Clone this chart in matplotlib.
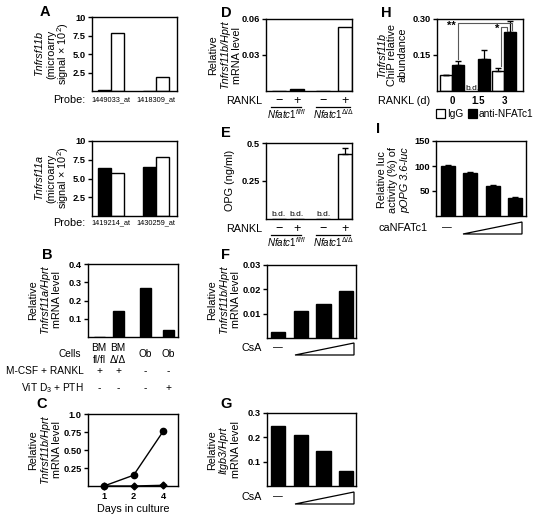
import matplotlib
matplotlib.use('Agg')
import matplotlib.pyplot as plt
import numpy as np
from matplotlib.patches import Polygon, Rectangle
from matplotlib.lines import Line2D
from matplotlib.transforms import blended_transform_factory

plt.rcParams['font.family'] = ['Liberation Sans', 'DejaVu Sans']
plt.rcParams['mathtext.fontset'] = 'custom'
plt.rcParams['mathtext.rm'] = 'Liberation Sans'
plt.rcParams['mathtext.it'] = 'Liberation Sans:italic'
plt.rcParams['mathtext.bf'] = 'Liberation Sans:bold'

# ---- data ----
# A: microarray
probes_a1 = ['1449033_at', '1418309_at']
opg_flox = [0.12, 0.05]
opg_del = [7.8, 1.9]
probes_a2 = ['1419214_at', '1430259_at']
rank_flox = [6.4, 6.5]
rank_del = [5.8, 7.9]
# B
b_cells = ['BM\nfl/fl', 'BM\nΔ/Δ', 'Ob', 'Ob']
b_vals = [0.002, 0.14, 0.27, 0.04]
b_mcsf = ['+', '+', '-', '-']
b_vitd = ['-', '-', '-', '+']
# C
c_days = ['1', '2', '4']
c_del = [0.0, 0.15, 0.76]
c_flox = [0.0, 0.0, 0.01]
# D / E
rankl_signs = ['−', '+', '−', '+']
d_vals = [0, 0.0015, 0, 0.053]
e_vals = [0, 0, 0, 0.43]
e_err = [0, 0, 0, 0.04]
e_bd = [True, True, True, False]
# F / G
f_vals = [0.0025, 0.011, 0.014, 0.0195]
g_vals = [0.245, 0.21, 0.143, 0.063]
# H
h_days = ['0', '1.5', '3']
h_igg = [0.068, np.nan, 0.083]
h_igg_err = [0, 0, 0.012]
h_nfat = [0.107, 0.133, 0.245]
h_nfat_err = [0.018, 0.037, 0.045]
# I
i_vals = [100, 87, 60, 36]
i_err = [3, 1.5, 2.5, 1.5]

W, H = 544, 517
fig = plt.figure(figsize=(W / 100, H / 100), dpi=100)
TK = 6.7
LB = 7.8
SM = 7.3


def add_ax(l, t, r, b):
    ax = fig.add_axes([l / W, 1 - b / H, (r - l) / W, (b - t) / H])
    for s in ax.spines.values():
        s.set_linewidth(1)
    ax.tick_params(axis='y', length=3, width=1, pad=1.5, labelsize=TK)
    ax.tick_params(axis='x', length=0, labelsize=TK)
    ax.set_xticks([])
    return ax


def yticks(ax, ticks, labels, lim):
    ax.set_ylim(*lim)
    ax.set_yticks(ticks, labels, fontweight='bold')


def ft(x, y, s, **kw):
    kw.setdefault('ha', 'center')
    kw.setdefault('va', 'center')
    kw.setdefault('size', LB)
    fig.text(x / W, 1 - y / H, s, **kw)


def xt(ax, x, y, s, **kw):
    tr = blended_transform_factory(ax.transData, fig.transFigure)
    kw.setdefault('ha', 'center')
    kw.setdefault('va', 'center')
    kw.setdefault('size', LB)
    ax.text(x, 1 - y / H, s, transform=tr, clip_on=False, **kw)


def ylab(xs, yc, lines, styles):
    for x, s, st in zip(xs, lines, styles):
        ft(x, yc, s, rotation=90, style=st)


def hline(x0, x1, y):
    fig.add_artist(Line2D([x0 / W, x1 / W], [1 - y / H, 1 - y / H], color='k', lw=0.9))


def tri(x0, x1, yb, yt):
    fig.add_artist(Polygon([(x0 / W, 1 - yb / H), (x1 / W, 1 - yb / H), (x1 / W, 1 - yt / H)],
                           closed=True, fill=False, lw=0.9, ec='k', transform=fig.transFigure))


def letter(x, y, s):
    ft(x, y, s, size=10.5, fontweight='bold')


# ---- A ----
for (t, b, probes, blk, wht, yc, py) in [(17, 91, probes_a1, opg_flox, opg_del, 54, 100),
                                         (141, 216, probes_a2, rank_flox, rank_del, 178, 223)]:
    ax = add_ax(92, t, 177, b)
    x = np.arange(len(probes))
    w = 0.29
    ax.bar(x - w / 2, blk, w, color='k', ec='k', lw=1)
    ax.bar(x + w / 2, wht, w, color='w', ec='k', lw=1)
    ax.set_xlim(-0.42, 1.47)
    yticks(ax, [2.5, 5, 7.5, 10], ['2.5', '5.0', '7.5', '10'], (0, 10))
    for xi, p in zip(x, probes):
        xt(ax, xi, py, p, size=5.3)
    ft(85, py, 'Probe:', ha='right')
    gene = 'Tnfrsf11b' if t < 100 else 'Tnfrsf11a'
    ylab([39, 51, 63], yc, [gene, '(microarry', 'signal × 10$^2$)'], ['italic', 'normal', 'normal'])
letter(45, 12, 'A')

# ---- B ----
ax = add_ax(88, 264, 178, 337)
bx = np.array([0, 0.83, 2.0, 3.0])
ax.bar(bx, b_vals, 0.48, color='k', ec='k', lw=1)
ax.set_xlim(-0.48, 3.43)
yticks(ax, [0.1, 0.2, 0.3, 0.4], ['0.1', '0.2', '0.3', '0.4'], (0, 0.4))
for xi, c, m, v in zip(bx, b_cells, b_mcsf, b_vitd):
    xt(ax, xi, 354, c, size=SM)
    xt(ax, xi, 371, m, size=SM)
    xt(ax, xi, 388, v, size=SM)
ft(81, 354, 'Cells', ha='right', size=SM)
ft(84, 371, 'M-CSF + RANKL', ha='right', size=SM)
ft(84, 388, 'ViT D$_3$ + PTH', ha='right', size=SM)
ylab([33, 45, 57], 300, ['Relative', 'Tnfrsf11a/Hprt', 'mRNA level'], ['normal', 'italic', 'normal'])
letter(47, 255, 'B')

# ---- C ----
ax = add_ax(88, 414, 178, 486)
cx = np.arange(len(c_days))
ax.plot(cx, c_del, '-o', color='k', lw=1, ms=4.5, clip_on=False, zorder=3)
ax.plot(cx, c_flox, '-D', color='k', lw=1, ms=3.5, clip_on=False, zorder=3)
ax.set_xlim(-0.54, 2.5)
yticks(ax, [0.25, 0.5, 0.75, 1.0], ['0.25', '0.50', '0.75', '1.0'], (0, 1.0))
ax.set_xticks(cx, c_days, fontweight='bold')
ax.tick_params(axis='x', pad=4)
ft(133, 509, 'Days in culture')
ylab([33, 45, 57], 450, ['Relative', 'Tnfrsf11b/Hprt', 'mRNA level'], ['normal', 'italic', 'normal'])
letter(42, 404, 'C')

# ---- D / E ----
dx = np.array([0, 1, 2.45, 3.65])
dcol = ['k', 'k', 'w', 'w']
for (t, b, vals, err, yc, ry) in [(19, 91, d_vals, None, 55, 101), (143, 219, e_vals, e_err, 180, 229)]:
    ax = add_ax(266, t, 352, b)
    ax.bar(dx, vals, 0.78, color=dcol, ec='k', lw=1)
    ax.set_xlim(-0.72, 4.05)
    if err is None:
        yticks(ax, [0.03, 0.06], ['0.03', '0.06'], (0, 0.06))
        ylab([213, 225, 237], yc, ['Relative', 'Tnfrsf11b/Hprt', 'mRNA level'], ['normal', 'italic', 'normal'])
    else:
        yticks(ax, [0.25, 0.5], ['0.25', '0.5'], (0, 0.5))
        for xi, v, e, bd in zip(dx, vals, err, e_bd):
            if bd:
                ax.text(xi, 0.03, 'b.d.', ha='center', va='center', size=6)
            else:
                ax.errorbar(xi, v, yerr=[[0], [e]], fmt='none', ecolor='k', capsize=2.5, lw=0.9)
        ylab([230], yc, ['OPG (ng/ml)'], ['normal'])
    for xi, s in zip(dx, rankl_signs):
        xt(ax, xi, ry, s, size=9)
    ft(262, ry, 'RANKL', ha='right')
    hline(271, 301, ry + 6)
    hline(316, 350, ry + 6)
    ft(287, ry + 13, r'$\mathit{Nfatc1}^{\mathit{fl/fl}}$', size=7)
    ft(334, ry + 13, r'$\mathit{Nfatc1}^{\mathit{\Delta/\Delta}}$', size=7)
letter(226, 13, 'D')
letter(226, 133, 'E')

# ---- F / G ----
fx = np.arange(4)
for (t, b, vals, tk, tl, lim, gene, yc, cy) in [
        (265, 338, f_vals, [0.01, 0.02, 0.03], ['0.01', '0.02', '0.03'], (0, 0.03), 'Tnfrsf11b/Hprt', 300, 348),
        (413, 486, g_vals, [0.1, 0.2, 0.3], ['0.1', '0.2', '0.3'], (0, 0.3), 'Itgb3/Hprt', 450, 497)]:
    ax = add_ax(267, t, 356, b)
    ax.bar(fx, vals, 0.62, color='k', ec='k', lw=1)
    ax.set_xlim(-0.48, 3.43)
    yticks(ax, tk, tl, lim)
    ylab([212, 224, 236], yc, ['Relative', gene, 'mRNA level'], ['normal', 'italic', 'normal'])
    ft(262, cy, 'CsA', ha='right')
    ft(278, cy - 1, '—', size=7)
    tri(295, 354, cy + 7, cy - 5)
letter(226, 255, 'F')
letter(226, 404, 'G')

# ---- H ----
ax = add_ax(437, 19, 523, 91)
hx = np.arange(len(h_days))
off = 0.23
ax.bar(hx - off, h_igg, 0.46, color='w', ec='k', lw=1)
ax.bar(hx + off, h_nfat, 0.46, color='k', ec='k', lw=1)
ax.errorbar(hx - off, h_igg, yerr=[np.zeros(3), h_igg_err], fmt='none', ecolor='k', capsize=2, lw=0.9)
ax.errorbar(hx + off, h_nfat, yerr=[np.zeros(3), h_nfat_err], fmt='none', ecolor='k', capsize=2, lw=0.9)
ax.set_xlim(-0.58, 2.73)
yticks(ax, [0.15, 0.30], ['0.15', '0.30'], (0, 0.30))
ax.text(1 - off, 0.012, 'b.d.', ha='center', va='center', size=6)
bk = dict(color='0.35', lw=0.8, clip_on=False)
ax.plot([off, off, 2 + off + 0.08, 2 + off + 0.08], [0.135, 0.283, 0.283, 0.255], **bk)
ax.plot([2 - off + 0.1, 2 - off + 0.1, 2 + off - 0.12, 2 + off - 0.12], [0.103, 0.265, 0.265, 0.25], **bk)
ax.text(-0.02, 0.272, '**', ha='center', va='center', size=8, fontweight='bold')
ax.text(1.72, 0.257, '*', ha='center', va='center', size=8, fontweight='bold')
for xi, d in zip(hx, h_days):
    xt(ax, xi, 101, d, fontweight='bold', size=7)
ft(430, 101, 'RANKL (d)', ha='right')
fig.add_artist(Rectangle((436 / W, 1 - 118 / H), 9 / W, 9 / H, fc='w', ec='k', lw=0.9,
                         transform=fig.transFigure))
ft(447, 114, 'IgG', ha='left', size=SM)
fig.add_artist(Rectangle((468 / W, 1 - 118 / H), 9 / W, 9 / H, fc='k', ec='k', lw=0.9,
                         transform=fig.transFigure))
ft(479, 114, 'anti-NFATc1', ha='left', size=SM)
ylab([382, 392, 402], 55, ['Tnfrsf11b', 'ChiP relative', 'abundance'], ['italic', 'normal', 'normal'])
letter(386, 13, 'H')

# ---- I ----
ax = add_ax(436, 141, 526, 216)
ix = np.arange(len(i_vals))
ax.bar(ix, i_vals, 0.62, color='k', ec='k', lw=1)
ax.errorbar(ix, i_vals, yerr=[np.zeros(4), i_err], fmt='none', ecolor='k', capsize=2, lw=0.9)
ax.set_xlim(-0.53, 3.47)
yticks(ax, [50, 100, 150], ['50', '100', '150'], (0, 150))
ylab([382, 393, 405], 180, ['Relative luc', 'activity (%) of', 'pOPG 3.6-luc'], ['normal', 'normal', 'italic'])
ft(428, 228, 'caNFATc1', ha='right')
ft(447, 227, '—', size=7)
tri(463, 522, 234, 222)
letter(378, 129, 'I')

fig.savefig('out.png', dpi=100)
